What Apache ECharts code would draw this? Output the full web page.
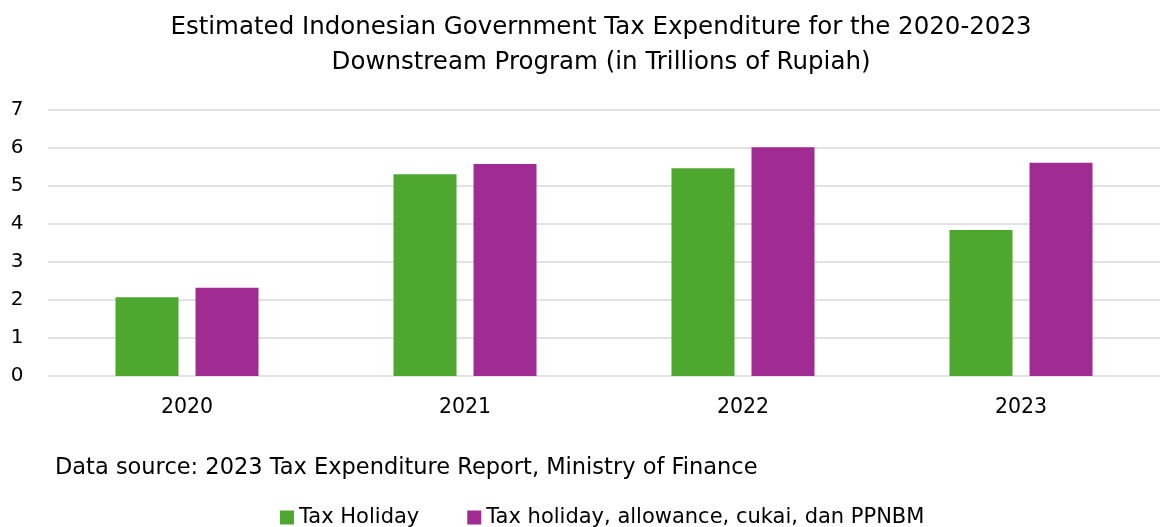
<!DOCTYPE html>
<html>
<head>
<meta charset="utf-8">
<script src="https://cdn.jsdelivr.net/npm/echarts@6/dist/echarts.min.js"></script>
<style>
  html, body { margin: 0; padding: 0; background: #fff; }
  #chart { width: 1160px; height: 527px; }
</style>
</head>
<body>
<div id="chart"></div>
<script>
// Tax expenditure for the downstream program, trillions of rupiah
const years = ['2020', '2021', '2022', '2023'];
const taxHoliday = [2.07, 5.31, 5.47, 3.84];
const taxHolidayAllowance = [2.32, 5.58, 6.02, 5.61];
const seriesNames = ['Tax Holiday', 'Tax holiday, allowance, cukai, dan PPNBM'];

const FONT = '"DejaVu Sans", sans-serif';
const chart = echarts.init(document.getElementById('chart'));

chart.setOption({
  backgroundColor: '#ffffff',
  animation: false,
  title: {
    text: 'Estimated Indonesian Government Tax Expenditure for the 2020-2023\nDownstream Program (in Trillions of Rupiah)',
    left: 596,
    textAlign: 'center',
    top: 5,
    textStyle: { fontFamily: FONT, fontSize: 24.5, fontWeight: 'normal', color: '#000', lineHeight: 35 }
  },
  graphic: [{
    type: 'text',
    left: 55,
    top: 457,
    style: { text: 'Data source: 2023 Tax Expenditure Report, Ministry of Finance', font: '22.5px ' + FONT, fill: '#000' }
  }],
  legend: {
    data: seriesNames,
    left: 275,
    top: 502,
    itemWidth: 14,
    itemHeight: 14,
    itemGap: 48,
    icon: 'rect',
    textStyle: { fontFamily: FONT, fontSize: 21, color: '#000' }
  },
  grid: { left: 48, width: 1123, top: 110, height: 266, containLabel: false },
  xAxis: {
    type: 'category',
    data: years,
    axisLine: { show: false },
    axisTick: { show: false },
    axisLabel: { fontFamily: FONT, fontSize: 20.5, color: '#000', margin: 21 }
  },
  yAxis: {
    type: 'value',
    min: 0,
    max: 7,
    interval: 1,
    axisLine: { show: false },
    axisTick: { show: false },
    splitLine: { lineStyle: { color: '#d9d9d9', width: 1.5 } },
    axisLabel: { fontFamily: FONT, fontSize: 20, color: '#000', margin: 31, align: 'center' }
  },
  series: [
    { name: seriesNames[0], type: 'bar', data: taxHoliday, barWidth: 63, barGap: '27%', itemStyle: { color: '#4ea72e' } },
    { name: seriesNames[1], type: 'bar', data: taxHolidayAllowance, barWidth: 63, barGap: '27%', itemStyle: { color: '#a02b93' } }
  ]
});
</script>
</body>
</html>
